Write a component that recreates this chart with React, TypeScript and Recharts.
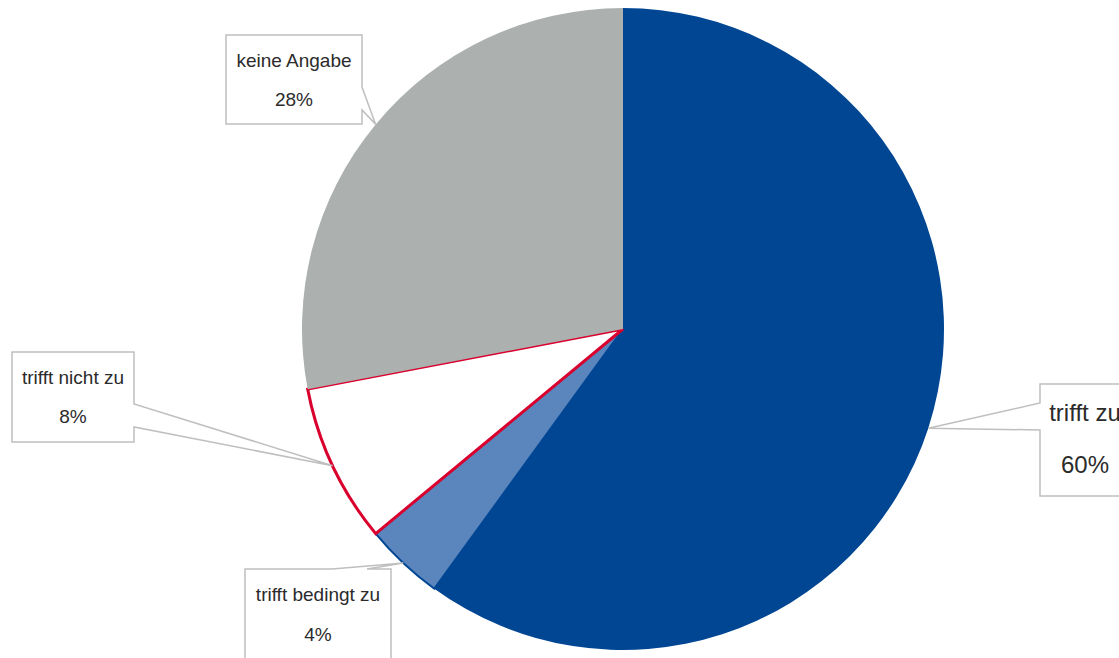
import { PieChart, Pie, Cell } from 'recharts'

const answers = ['trifft zu', 'trifft bedingt zu', 'trifft nicht zu', 'keine Angabe']
const shares = [60, 4, 8, 28]

const fills = ['#004693', '#5A86BD', '#FFFFFF', '#ACB1B0']
const strokes = ['none', '#004693', '#D9002E', 'none']
const strokeWidths = [0, 2, 3, 0]

// callout boxes (Excel style), wedge points at the slice's outer edge
const callouts = [
	{ x: 1040, y: 384, w: 110, h: 112, side: 'left', a: 403, b: 430, cx: 1085, l1: 37, l2: 89, fs: 24 },
	{ x: 245, y: 569, w: 146, h: 110, side: 'top', a: 332, b: 367, cx: 318, l1: 32, l2: 72, fs: 19 },
	{ x: 12, y: 352, w: 122, h: 90, side: 'right', a: 404, b: 427, cx: 73, l1: 32, l2: 71, fs: 19 },
	{ x: 226, y: 35, w: 136, h: 89, side: 'right', a: 87, b: 110, cx: 294, l1: 32, l2: 71, fs: 19 },
]

const data = answers.map((name, i) => ({ name, value: shares[i] }))

const RAD = Math.PI / 180

function Callout(props: any) {
	const { cx, cy, midAngle, outerRadius, index, percent, name } = props
	const c = callouts[index]
	const tx = cx + outerRadius * Math.cos(-midAngle * RAD)
	const ty = cy + outerRadius * Math.sin(-midAngle * RAD)
	const { x, y, w, h, a, b } = c
	let pts: number[][]
	if (c.side === 'right') {
		pts = [[x, y], [x + w, y], [x + w, a], [tx, ty], [x + w, b], [x + w, y + h], [x, y + h]]
	} else if (c.side === 'left') {
		pts = [[x, y], [x + w, y], [x + w, y + h], [x, y + h], [x, b], [tx, ty], [x, a]]
	} else {
		pts = [[x, y], [a, y], [tx, ty], [b, y], [x + w, y], [x + w, y + h], [x, y + h]]
	}
	const d = 'M' + pts.map((p) => p.join(',')).join('L') + 'Z'
	return (
		<g>
			<path d={d} fill='#FFFFFF' stroke='#BFBFBF' strokeWidth={1.5} />
			<text x={c.cx} y={y + c.l1} textAnchor='middle' fontSize={c.fs} fill='#2B2B2B'>
				{name}
			</text>
			<text x={c.cx} y={y + c.l2} textAnchor='middle' fontSize={c.fs} fill='#2B2B2B'>
				{Math.round(percent * 100)}%
			</text>
		</g>
	)
}

export default function App() {
	return (
		<div style={{ position: 'absolute', left: 0, top: 0, fontFamily: "'Liberation Sans', Arial, sans-serif" }}>
			<PieChart width={1119} height={658} margin={{ top: 0, right: 0, bottom: 0, left: 0 }}>
				<Pie
					data={data}
					dataKey='value'
					nameKey='name'
					cx={623}
					cy={329}
					outerRadius={321}
					startAngle={90}
					endAngle={-270}
					label={Callout}
					labelLine={false}
					isAnimationActive={false}
				>
					{data.map((d, i) => (
						<Cell key={d.name} fill={fills[i]} stroke={strokes[i]} strokeWidth={strokeWidths[i]} />
					))}
				</Pie>
			</PieChart>
		</div>
	)
}
